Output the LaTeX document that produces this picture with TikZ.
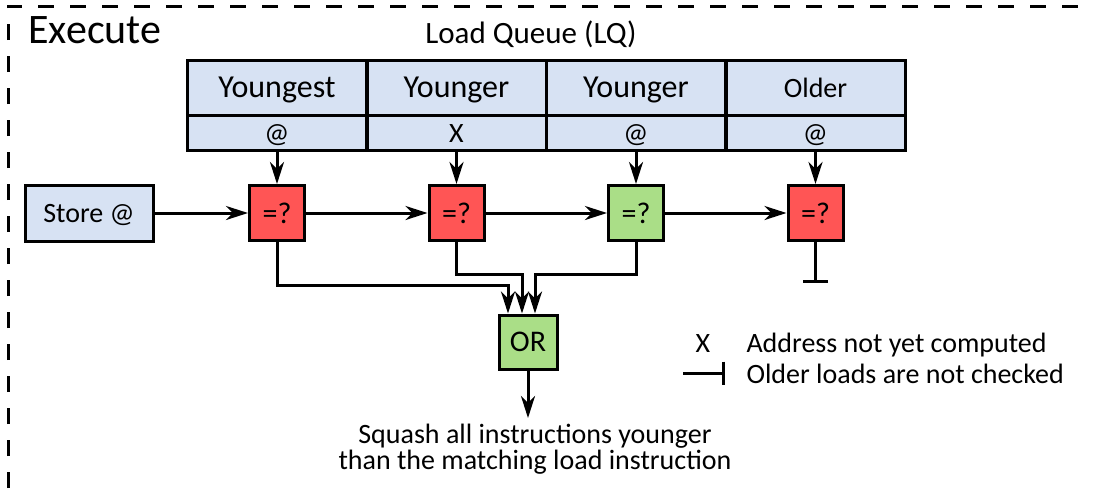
\documentclass[tikz,border=0pt]{standalone}
\usepackage{fontspec}
\setmainfont{Carlito}
\usetikzlibrary{arrows.meta}

\begin{document}
\begin{tikzpicture}[x=0.5pt, y=-0.5pt, line width=1.5pt,
  >={Stealth[length=11pt, width=7pt, inset=3.5pt]},
  lqhead/.style={draw, fill=lqcolor, minimum width=89.5pt, minimum height=27.5pt,
    inner sep=0pt, text height=12.5pt, text depth=3pt, font=\fontsize{16}{19}\selectfont},
  lqaddr/.style={draw, fill=lqcolor, minimum width=89.5pt, minimum height=17.5pt,
    inner sep=0pt, text height=11.5pt, text depth=2pt, font=\fontsize{14}{17}\selectfont},
  cmp/.style={draw, minimum size=27.5pt, inner sep=0pt, font=\fontsize{15}{18}\selectfont},
  txt/.style={inner sep=0pt, font=\fontsize{14}{17}\selectfont}]

  % Define colors
  \definecolor{lqcolor}{HTML}{D7E2F3}
  \definecolor{misscolor}{HTML}{FF5555}
  \definecolor{hitcolor}{HTML}{AADE87}

  \useasboundingbox (0,0) rectangle (1093,488);

  % Execute stage frame
  \draw[dash pattern=on 8pt off 8pt] (8,488) -- (8,6) -- (1093,6);
  \node[anchor=base west, inner sep=0pt, font=\fontsize{21}{25}\selectfont] (exec) at (27,43) {Execute};

  % Load queue
  \node[anchor=base, inner sep=0pt, font=\fontsize{15.5}{18}\selectfont] (lq) at (531,43) {Load Queue (LQ)};
  \node[lqhead] (h1) at (277,87.5) {Youngest};
  \node[lqhead] (h2) at (456.5,87.5) {Younger};
  \node[lqhead] (h3) at (636,87.5) {Younger};
  \node[lqhead, font=\fontsize{14}{17}\selectfont] (h4) at (815.5,87.5) {Older};
  \node[lqaddr] (a1) at (277,132.5) {@};
  \node[lqaddr] (a2) at (456.5,132.5) {X};
  \node[lqaddr] (a3) at (636,132.5) {@};
  \node[lqaddr] (a4) at (815.5,132.5) {@};

  % Store address and comparators
  \node[cmp, fill=lqcolor, minimum width=64pt, minimum height=28pt, text height=9pt, text depth=0pt,
    font=\fontsize{14}{17}\selectfont] (st) at (89,213) {Store @};
  \node[cmp, fill=misscolor] (c1) at (277,213) {=?};
  \node[cmp, fill=misscolor] (c2) at (456.5,213) {=?};
  \node[cmp, fill=hitcolor] (c3) at (636,213) {=?};
  \node[cmp, fill=misscolor] (c4) at (815.5,213) {=?};

  \draw[->] (st) -- (c1);
  \draw[->] (c1) -- (c2);
  \draw[->] (c2) -- (c3);
  \draw[->] (c3) -- (c4);
  \draw[->] (a1) -- (c1);
  \draw[->] (a2) -- (c2);
  \draw[->] (a3) -- (c3);
  \draw[->] (a4) -- (c4);

  % Oldest entry is not checked
  \coordinate (c4end) at (815.5,283);
  \draw[-{Bar[width=12.5pt]}] (c4) -- (c4end);

  % OR of the matches
  \node[cmp, fill=hitcolor, minimum width=29pt, minimum height=27pt] (or) at (528,342) {OR};
  \draw[->] (c1.south) |- ([shift={(-10pt,14pt)}]or.north) -- ([xshift=-10pt]or.north);
  \draw[->] (c2.south) |- ([shift={(-3pt,19.5pt)}]or.north) -- ([xshift=-3pt]or.north);
  \draw[->] (c3.south) |- ([shift={(3.5pt,19.5pt)}]or.north) -- ([xshift=3.5pt]or.north);

  \coordinate (sqtop) at (528,418);
  \draw[->] (or) -- (sqtop);
  \node[align=center, inner sep=0pt, font=\fontsize{14}{11}\selectfont] (squash) at (535,449)
    {Squash all instructions younger\\than the matching load instruction};

  % Legend
  \node[txt] (lgx) at (703,343.5) {X};
  \node[txt, anchor=base west] (lgt1) at (745,352) {Address not yet computed};
  \coordinate (lga) at (683,373);
  \coordinate (lgb) at (725,373);
  \draw[-{Bar[width=11.5pt]}] (lga) -- (lgb);
  \node[txt, anchor=base west] (lgt2) at (745,383) {Older loads are not checked};

\end{tikzpicture}
\end{document}
